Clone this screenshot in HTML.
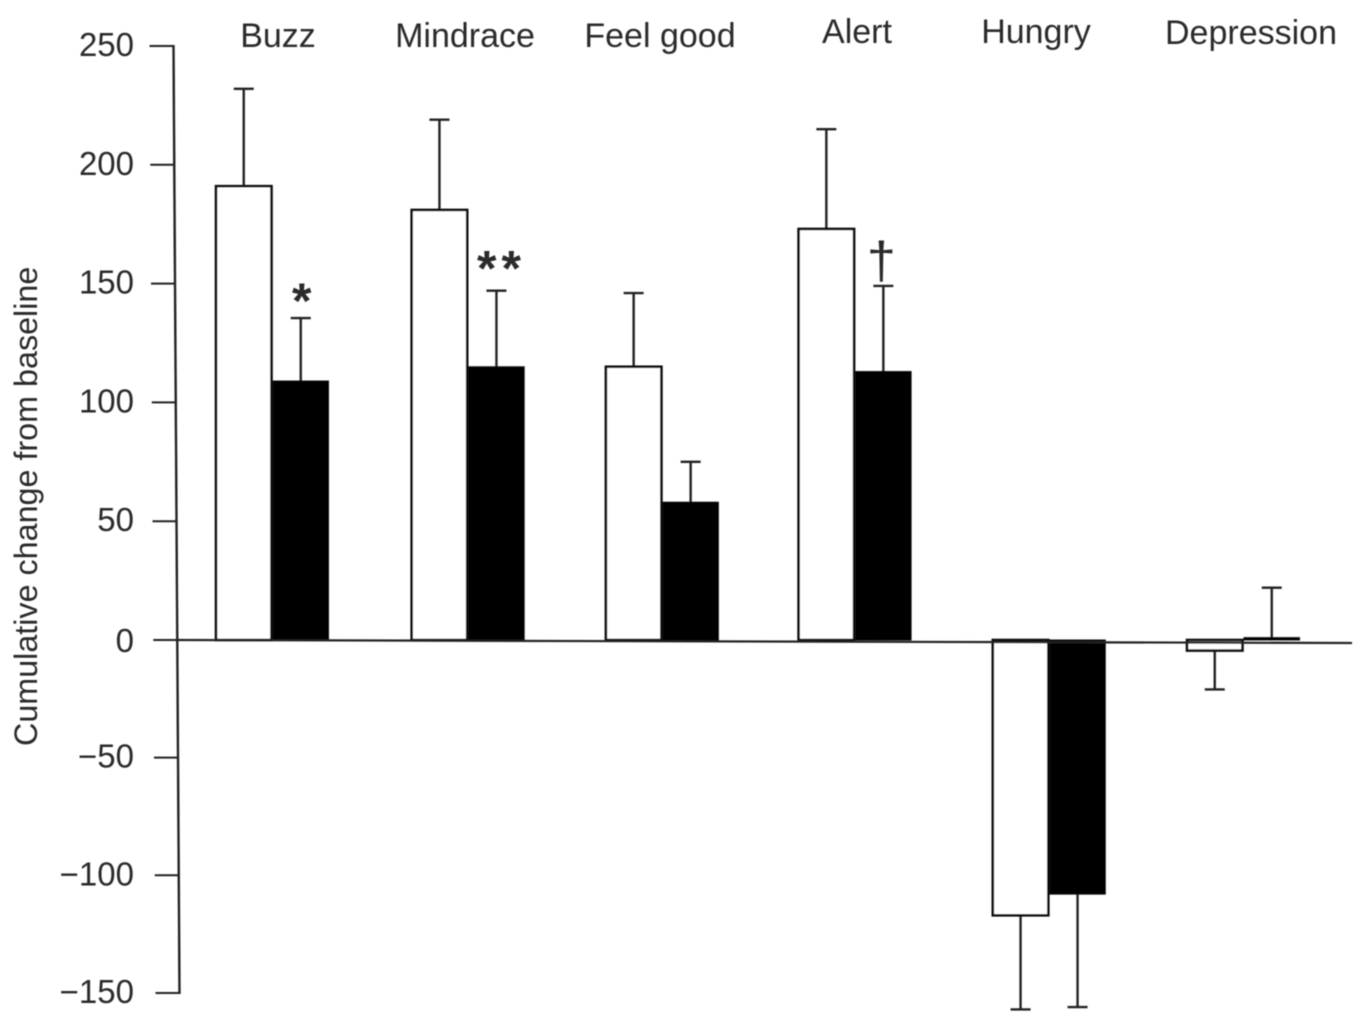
<!DOCTYPE html>
<html lang="en">
<head>
<meta charset="utf-8">
<title>Cumulative change from baseline</title>
<style>
html,body{margin:0;padding:0;background:#fff;width:1357px;height:1021px;overflow:hidden}
svg{display:block}
text{font-family:"Liberation Sans",sans-serif;fill:#2a2a2a}
</style>
</head>
<body>
<svg id="chart" xmlns="http://www.w3.org/2000/svg" width="1357" height="1021" viewBox="0 0 1357 1021">
  <defs><filter id="soft" x="-5%" y="-5%" width="110%" height="110%"><feGaussianBlur stdDeviation="0.55"/></filter></defs>
  <g id="root" filter="url(#soft)">
    <text transform="translate(37,746) rotate(-90)" font-size="32.3">Cumulative change from baseline</text>
    <text x="278" y="47" font-size="34" text-anchor="middle">Buzz</text>
    <text x="465" y="47" font-size="34" text-anchor="middle">Mindrace</text>
    <text x="660" y="47" font-size="34" text-anchor="middle">Feel good</text>
    <text x="857" y="43" font-size="34" text-anchor="middle">Alert</text>
    <text x="1036" y="43" font-size="34" text-anchor="middle">Hungry</text>
    <text x="1251" y="44" font-size="34" text-anchor="middle">Depression</text>
  </g>
</svg>
<script>
const categories = ['Buzz', 'Mindrace', 'Feel good', 'Alert', 'Hungry', 'Depression'];
const whiteValues = [191, 181, 115, 173, -117, -4.5];
const whiteErrorEnds = [232, 219, 146, 215, -157, -21];
const blackValues = [109, 115, 58, 113, -108, 1];
const blackErrorEnds = [135.5, 147, 75, 149, -156, 22];
const significance = ['*', '**', '', '\u2020', '', ''];
const yTicks = [250, 200, 150, 100, 50, 0, -50, -100, -150];

const root = document.getElementById('root');
const NS = 'http://www.w3.org/2000/svg';

function yScale(v) {
  return v >= 0 ? 640 - v * 2.376 : 640 - v * 2.353;
}
function xBand(i) {
  // groups are slightly unevenly pasted in the source figure
  return 216 + 194.2 * i + (i === 1 || i === 2 ? 1.5 : 0);
}
function axisX(py) {
  return 173.5 + (py - 46) * 6 / 948;
}
function make(tag, attrs) {
  const el = document.createElementNS(NS, tag);
  for (const k in attrs) el.setAttribute(k, attrs[k]);
  root.appendChild(el);
  return el;
}
function slug(s) {
  return s.toLowerCase().replace(/\s+/g, '-');
}

const barW = 55.5;
const blackOffset = 57;

function drawBar(i, series, value, end) {
  const left = xBand(i) + (series === 'black' ? blackOffset : 0);
  const centre = left + barW / 2;
  const y0 = yScale(0);
  const y1 = yScale(value);
  const yE = yScale(end);
  const name = slug(categories[i]) + '-' + series;

  const stem = make('line', {x1: centre, x2: centre, y1: y1, y2: yE, stroke: '#222', 'stroke-width': 2.4});
  
  
  const cap = make('line', {x1: centre - 10, x2: centre + 10, y1: yE, y2: yE, stroke: '#222', 'stroke-width': 2.4});
  
  

  const rect = make('rect', {
    x: left, y: Math.min(y0, y1), width: barW, height: Math.abs(y1 - y0),
    fill: series === 'black' ? '#000' : '#fff', stroke: '#111', 'stroke-width': series === 'black' ? 1 : 2.6
  });
  
  
}

categories.forEach(function (c, i) {
  drawBar(i, 'white', whiteValues[i], whiteErrorEnds[i]);
  drawBar(i, 'black', blackValues[i], blackErrorEnds[i]);
  const mark = significance[i];
  if (mark) {
    const isDagger = mark === '\u2020';
    const isDouble = mark.length > 1;
    const t = make('text', {
      x: xBand(i) + blackOffset + barW / 2 + (isDagger ? -2 : (isDouble ? 5 : 1)),
      y: yScale(blackErrorEnds[i]) + (isDagger ? -8 : (isDouble ? -5 : 0)),
      'font-size': isDagger ? 52 : 50,
      'font-weight': isDagger ? 'normal' : 'bold',
      'letter-spacing': isDouble ? 5 : 0,
      'text-anchor': 'middle'
    });
    
    
    t.textContent = mark;
  }
});

yTicks.forEach(function (v) {
  const py = yScale(v);
  const ax = axisX(py);
  const tick = make('line', {x1: ax - 24, x2: ax, y1: py, y2: py, stroke: '#222', 'stroke-width': 2});
  
  
  const label = make('text', {x: 134, y: py + (v === 0 ? 12 : 10), 'font-size': 33, 'text-anchor': 'end'});
  
  
  label.textContent = v < 0 ? '\u2212' + Math.abs(v) : String(v);
});

const axisTop = yScale(yTicks[0]);
const axisBottom = yScale(yTicks[yTicks.length - 1]);
const yAxis = make('line', {x1: axisX(axisTop), x2: axisX(axisBottom), y1: axisTop - 1, y2: axisBottom + 1, stroke: '#222', 'stroke-width': 2.4});



const zeroY = yScale(0);
const xAxis = make('line', {x1: axisX(zeroY), x2: 1352, y1: zeroY, y2: zeroY + 3, stroke: '#222', 'stroke-width': 2.2});


</script>
</body>
</html>
